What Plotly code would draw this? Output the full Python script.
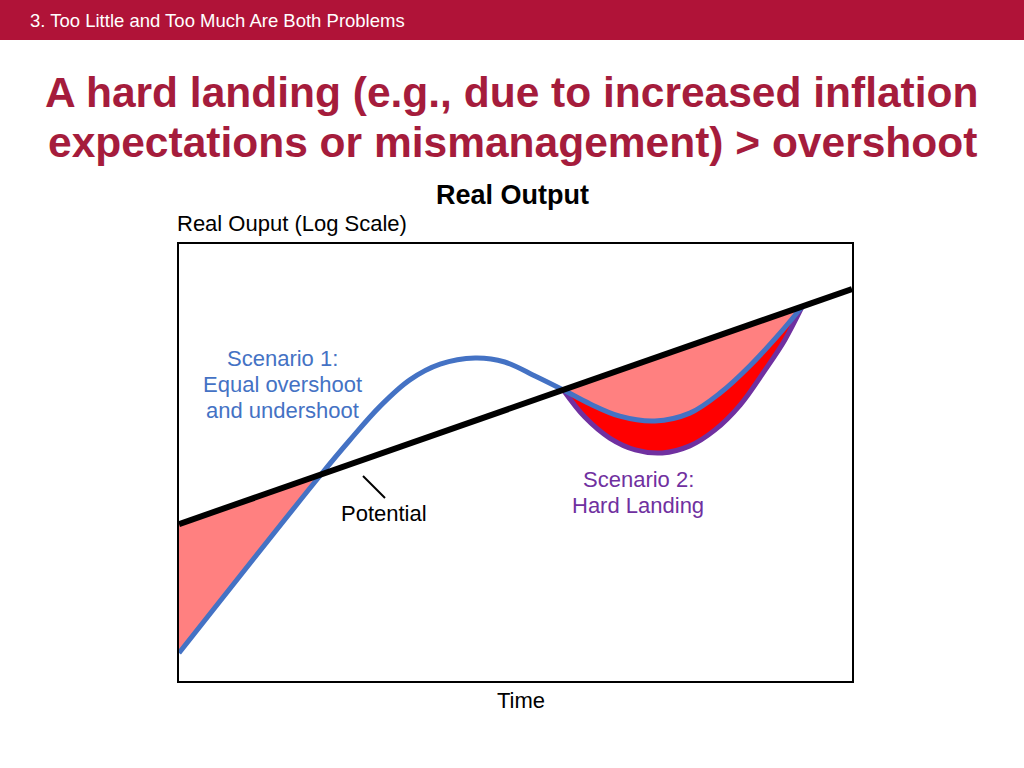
import plotly.graph_objects as go

# ---- data (time units 0..100, output units 0..100 on the plotted log scale) ----
potential_x = [0, 21.1, 57.1, 92.6, 100]
potential_y = [35.9, 47.25, 66.6, 85.7, 89.7]

blue_x = [0, 21.1, 25.4, 29.9, 34.3, 38.8, 44.0, 48.4, 52.9, 57.1,
          61.1, 65.5, 70.7, 75.9, 80.4, 84.8, 89.3, 92.6]
blue_y = [6.4, 47.25, 55.15, 62.9, 68.9, 72.5, 73.9, 73.0, 69.8, 66.6,
          63.4, 60.6, 59.5, 61.3, 65.9, 72.1, 79.6, 85.7]

purple_x = [57.1, 60.3, 64.0, 67.8, 71.8, 75.9, 79.6, 83.4, 87.1, 90.0, 92.6]
purple_y = [66.6, 60.4, 55.6, 52.9, 52.2, 53.8, 57.4, 63.2, 71.2, 78.0, 85.7]

# ---- styling ----
W, H = 1024, 768
L, R, T, B = 179, 852, 244, 681  # plot area in pixels
BLUE = "#4472C4"
PURPLE = "#7030A0"
SALMON = "#FF8080"
RED = "#FF0000"
HEADER = "#B01338"
TITLE = "#A51C3C"
FONT = "Liberation Sans, Arial, sans-serif"


def px(xp):
    return (xp - L) / (R - L)


def py(yp):
    return (B - yp) / (B - T)


fig = go.Figure()


def sub(xs, ys, lo, hi):
    pts = [(a, b) for a, b in zip(xs, ys) if lo <= a <= hi]
    return [p[0] for p in pts], [p[1] for p in pts]


# fills: undershoot of scenario 1 (below potential)
for lo, hi in [(potential_x[0], potential_x[1]), (potential_x[2], potential_x[3])]:
    ax, ay = sub(potential_x, potential_y, lo, hi)
    bx, by = sub(blue_x, blue_y, lo, hi)
    fig.add_trace(go.Scatter(x=ax, y=ay, mode="lines", line=dict(width=0), hoverinfo="skip", showlegend=False))
    fig.add_trace(go.Scatter(x=bx, y=by, mode="lines", line=dict(width=0, shape="spline"), fill="tonexty",
                             fillcolor=SALMON, hoverinfo="skip", showlegend=False))

# extra undershoot of scenario 2
bx, by = sub(blue_x, blue_y, purple_x[0], purple_x[-1])
fig.add_trace(go.Scatter(x=bx, y=by, mode="lines", line=dict(width=0, shape="spline"), hoverinfo="skip", showlegend=False))
fig.add_trace(go.Scatter(x=purple_x, y=purple_y, mode="lines", line=dict(width=0, shape="spline"), fill="tonexty",
                         fillcolor=RED, hoverinfo="skip", showlegend=False))

# lines
fig.add_trace(go.Scatter(x=purple_x, y=purple_y, mode="lines", line=dict(color=PURPLE, width=5, shape="spline"), showlegend=False))
fig.add_trace(go.Scatter(x=blue_x, y=blue_y, mode="lines", line=dict(color=BLUE, width=5, shape="spline"), showlegend=False))
fig.add_trace(go.Scatter(x=potential_x, y=potential_y, mode="lines", line=dict(color="black", width=6), showlegend=False))

axis = dict(range=[0, 100], showgrid=False, zeroline=False, showticklabels=False, ticks="",
            showline=True, mirror=True, linecolor="black", linewidth=2, fixedrange=True)

shapes = [
    dict(type="rect", xref="paper", yref="paper", x0=px(0), x1=px(W), y0=py(0), y1=py(40),
         fillcolor=HEADER, line=dict(width=0), layer="below"),
    dict(type="line", xref="paper", yref="paper", x0=px(363), y0=py(476), x1=px(385), y1=py(498),
         line=dict(color="black", width=2)),
]


def ann(text, x, y, size, color="black", bold=False, xanchor="center"):
    if bold:
        text = "<b>" + text + "</b>"
    return dict(text=text, x=px(x), y=py(y), xref="paper", yref="paper", showarrow=False,
                xanchor=xanchor, yanchor="middle", align="center",
                font=dict(family=FONT, size=size, color=color))


annotations = [
    ann("3. Too Little and Too Much Are Both Problems", 28, 20, 18.5, "white", xanchor="left"),
    ann("A hard landing (e.g., due to increased inflation", 512, 92, 42.5, TITLE, bold=True),
    ann("expectations or mismanagement) &gt; overshoot", 512, 142, 42.5, TITLE, bold=True),
    ann("Real Output", 512, 195, 27, bold=True),
    ann("Real Ouput (Log Scale)", 175, 224, 22, xanchor="left"),
    ann("Time", 521, 700, 22),
    ann("Scenario 1:", 282, 358, 22, BLUE),
    ann("Equal overshoot", 282, 384, 22, BLUE),
    ann("and undershoot", 282, 410, 22, BLUE),
    ann("Potential", 384, 513, 22),
    ann("Scenario 2:", 638, 479, 22, PURPLE),
    ann("Hard Landing", 638, 505, 22, PURPLE),
]

fig.update_layout(
    width=W, height=H,
    margin=dict(l=L, r=W - R, t=T, b=H - B, pad=0),
    paper_bgcolor="white", plot_bgcolor="white",
    xaxis=axis, yaxis=axis,
    shapes=shapes, annotations=annotations,
    font=dict(family=FONT),
)

fig.write_html("out.html", config={"displayModeBar": False},
               post_script="document.body.style.margin='0';document.body.style.overflow='hidden';")
